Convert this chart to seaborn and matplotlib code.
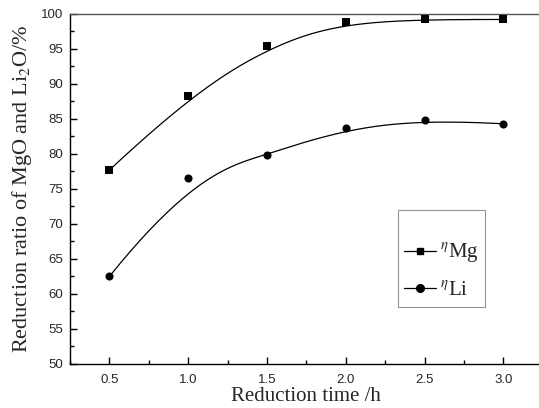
import numpy as np
import pandas as pd
import seaborn as sns
import matplotlib
matplotlib.use('Agg')
import matplotlib.pyplot as plt
from matplotlib.lines import Line2D

# data
time_h = [0.5, 1.0, 1.5, 2.0, 2.5, 3.0]
eta_mg = [77.7, 88.2, 95.4, 98.9, 99.2, 99.2]
eta_li = [62.5, 76.5, 79.9, 83.7, 84.9, 84.3]
series_labels = [r'$^{\eta}$Mg', r'$^{\eta}$Li']
x_ticks = [0.5, 1.0, 1.5, 2.0, 2.5, 3.0]
y_ticks = [50, 55, 60, 65, 70, 75, 80, 85, 90, 95, 100]


def bspline(xs, ys, n=200):
    # clamped cubic B-spline with the data points as control points (Origin style)
    pts = np.column_stack([xs, ys])
    k = 3
    m = len(pts)
    inner = np.linspace(0, 1, m - k + 1)
    knots = np.concatenate([[0] * k, inner, [1] * k])
    ts = np.linspace(0, 1 - 1e-9, n)
    out = []
    for t in ts:
        # de Boor
        i = np.searchsorted(knots, t, side='right') - 1
        d = [pts[j + i - k].copy() for j in range(k + 1)]
        for r in range(1, k + 1):
            for j in range(k, r - 1, -1):
                a = (t - knots[j + i - k]) / (knots[j + 1 + i - r] - knots[j + i - k])
                d[j] = (1 - a) * d[j - 1] + a * d[j]
        out.append(d[k])
    out.append(pts[-1])
    return np.array(out)


sns.set_theme(style='ticks')
plt.rcParams['font.family'] = ['Liberation Sans', 'DejaVu Sans']
plt.rcParams['mathtext.fontset'] = 'stix'

fig = plt.figure(figsize=(5.39, 4.08), dpi=100)
ax = fig.add_axes([0.13, 0.108, 0.877, 0.858])

for ys, mk in [(eta_mg, 's'), (eta_li, 'o')]:
    curve = bspline(time_h, ys)
    cdf = pd.DataFrame({'x': curve[:, 0], 'y': curve[:, 1]})
    sns.lineplot(data=cdf, x='x', y='y', sort=False, color='black', lw=0.9, ax=ax)
    pdf = pd.DataFrame({'x': time_h, 'y': ys})
    sns.scatterplot(data=pdf, x='x', y='y', marker=mk, s=34, color='black',
                    edgecolor='black', linewidth=0, ax=ax, zorder=3)

ax.set_xlim(0.25, 3.25)
ax.set_ylim(50, 100)
ax.set_xticks(x_ticks)
ax.set_xticklabels([f'{v:.1f}' for v in x_ticks])
ax.set_yticks(y_ticks)
ax.set_xticks(np.arange(0.25, 3.26, 0.25), minor=True)
ax.set_yticks(np.arange(50, 100.1, 2.5), minor=True)
ax.tick_params(which='major', direction='in', length=5, width=1, labelsize=9.5, color='black')
ax.tick_params(which='minor', direction='in', length=3, width=1, color='black')
ax.tick_params(axis='x', pad=7)
ax.tick_params(axis='y', pad=5)
for s in ax.spines.values():
    s.set_color('black')
    s.set_linewidth(1.0)
ax.spines['top'].set_color('#555555')

serif = ['Liberation Serif', 'DejaVu Serif']
ax.set_xlabel('Reduction time /h', family=serif, fontsize=15, labelpad=1)
ax.set_ylabel(r'Reduction ratio of MgO and Li$_{\rm 2}$O/%', family=serif, fontsize=16, labelpad=5)

handles = [Line2D([], [], color='black', lw=0.9, marker='s', ms=5),
           Line2D([], [], color='black', lw=0.9, marker='o', ms=5.5)]
leg = ax.legend(handles, series_labels, loc='upper left', bbox_to_anchor=(0.694, 0.44),
                borderaxespad=0, frameon=True, fancybox=False, edgecolor='#777777',
                prop={'family': serif, 'size': 15}, title=' ', title_fontsize=7,
                handlelength=1.5, labelspacing=0.75, borderpad=0.3, handletextpad=0.2)
leg.get_frame().set_linewidth(0.8)

fig.savefig('out.png', dpi=100)
